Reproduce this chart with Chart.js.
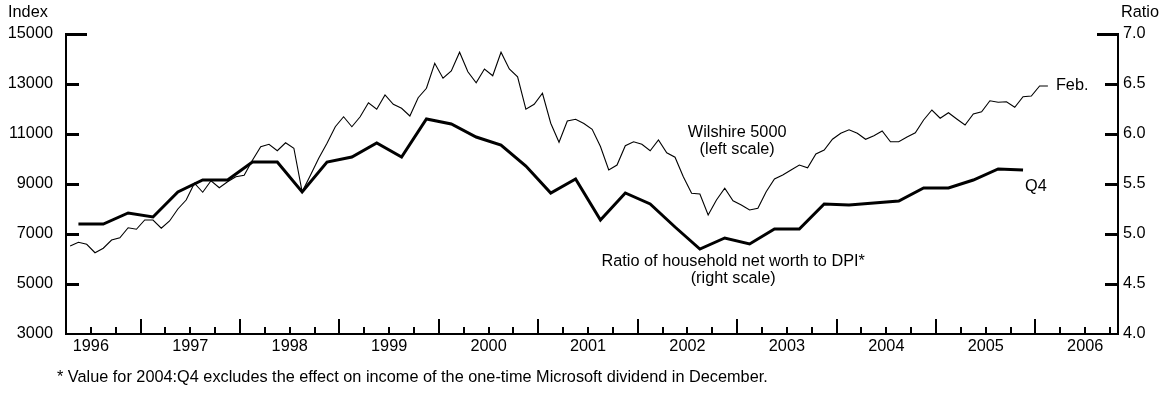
<!DOCTYPE html>
<html>
<head>
<meta charset="utf-8">
<script src="https://cdn.jsdelivr.net/npm/chart.js@4.4.0/dist/chart.umd.min.js"></script>
<style>
  html, body { margin: 0; padding: 0; background: #fff; }
  #wrap { width: 1159px; height: 396px; position: relative; }
</style>
</head>
<body>
<div id="wrap"><canvas id="chartCanvas" width="1159" height="396"></canvas></div>
<script>
// Wilshire 5000, monthly, first value is April 1996
const wilshireStart = 1996 + 3 / 12;
const wilshire = [
  6520, 6670, 6590, 6250, 6430, 6760, 6850, 7250, 7190,
  7560, 7560, 7230, 7520, 8000, 8360, 9030, 8670, 9130, 8850, 9090, 9290,
  9350, 9950, 10490, 10590, 10330, 10650, 10430, 8690, 9350, 10030, 10630, 11290,
  11690, 11290, 11690, 12250, 11990, 12560, 12190, 12030, 11720, 12450, 12830, 13830,
  13230, 13520, 14270, 13490, 13050, 13600, 13330, 14270, 13600, 13290, 11990, 12190,
  12630, 11430, 10670, 11520, 11590, 11420, 11190, 10500, 9560, 9760, 10530, 10690,
  10590, 10330, 10760, 10250, 10070, 9290, 8630, 8600, 7760, 8360, 8830, 8330,
  8160, 7960, 8030, 8690, 9200, 9360, 9560, 9760, 9650, 10200, 10360, 10790,
  11030, 11170, 11030, 10790, 10930, 11120, 10690, 10690, 10880, 11050, 11560, 11960,
  11630, 11850, 11600, 11360, 11800, 11890, 12330, 12270, 12290, 12070, 12490, 12520,
  12920, 12920
];

// household net worth / disposable personal income, quarterly, first value is 1996:Q2
const ratioStart = 1996 + 1 / 4;
const ratio = [
  5.10, 5.10, 5.21,
  5.17, 5.42, 5.54, 5.54,
  5.72, 5.72, 5.42, 5.72,
  5.77, 5.91, 5.77, 6.15,
  6.10, 5.97, 5.89, 5.68,
  5.41, 5.55, 5.14, 5.41,
  5.30, 5.07, 4.85, 4.96,
  4.90, 5.05, 5.05, 5.30,
  5.29, 5.31, 5.33, 5.46,
  5.46, 5.54, 5.65, 5.64
];

const yearLabels = ['1996', '1997', '1998', '1999', '2000', '2001', '2002', '2003', '2004', '2005', '2006'];
const indexTicks = [3000, 5000, 7000, 9000, 11000, 13000, 15000];
const ratioTicks = ['4.0', '4.5', '5.0', '5.5', '6.0', '6.5', '7.0'];

const FONT = '"Liberation Sans", Arial, Helvetica, sans-serif';
const FS = 16.3;

// points sit at the middle of their month / quarter
const wilshirePts = wilshire.map((v, i) => ({ x: wilshireStart + (i + 0.5) / 12, y: v }));
const ratioPts = ratio.map((v, i) => ({ x: ratioStart + (i + 0.5) / 4, y: v }));

// inward tick marks, titles and notes
const frame = {
  id: 'frame',
  afterDraw(chart) {
    const { ctx, chartArea: a, scales: { x, y, y1 } } = chart;
    ctx.save();
    ctx.strokeStyle = '#000';
    ctx.lineCap = 'butt';

    ctx.lineWidth = 3;
    indexTicks.forEach((v, i) => {
      if (i === 0) return;
      const py = Math.round(y.getPixelForValue(v)) + 0.5;
      const len = i === indexTicks.length - 1 ? 21 : 13;
      ctx.beginPath(); ctx.moveTo(a.left, py); ctx.lineTo(a.left + len, py); ctx.stroke();
    });
    ratioTicks.forEach((v, i) => {
      if (i === 0) return;
      const py = Math.round(y1.getPixelForValue(+v)) + 0.5;
      const len = i === ratioTicks.length - 1 ? 21 : 13;
      ctx.beginPath(); ctx.moveTo(a.right, py); ctx.lineTo(a.right - len, py); ctx.stroke();
    });

    ctx.lineWidth = 2;
    for (let q = Math.floor(x.min * 4) + 1; q / 4 < x.max; q++) {
      const px = Math.round(x.getPixelForValue(q / 4));
      const len = q % 4 === 0 ? 15 : 7;
      ctx.beginPath(); ctx.moveTo(px, a.bottom); ctx.lineTo(px, a.bottom - len); ctx.stroke();
    }

    ctx.fillStyle = '#000';
    ctx.font = FS + 'px ' + FONT;
    ctx.textBaseline = 'middle';

    ctx.textAlign = 'left';
    ctx.fillText('Index', 8, 13);
    ctx.fillText('Ratio', 1121, 13);

    // series labels
    const last = wilshirePts[wilshirePts.length - 1];
    ctx.fillText('Feb.', x.getPixelForValue(last.x) + 8, y.getPixelForValue(last.y));
    const lastR = ratioPts[ratioPts.length - 1];
    ctx.fillText('Q4', x.getPixelForValue(lastR.x) + 2, y1.getPixelForValue(lastR.y) + 17);

    ctx.textAlign = 'center';
    const cx = x.getPixelForValue(2003.0);
    ctx.fillText('Wilshire 5000', cx, y.getPixelForValue(11040));
    ctx.fillText('(left scale)', cx, y.getPixelForValue(10360));
    ctx.fillText('Ratio of household net worth to DPI*', x.getPixelForValue(2002.96), y.getPixelForValue(5880));
    ctx.fillText('(right scale)', x.getPixelForValue(2002.96), y.getPixelForValue(5200));

    ctx.textAlign = 'left';
    ctx.fillText('* Value for 2004:Q4 excludes the effect on income of the one-time Microsoft dividend in December.', 57, 378);
    ctx.restore();
  }
};

new Chart(document.getElementById('chartCanvas'), {
  type: 'line',
  data: {
    datasets: [
      {
        label: 'Wilshire 5000',
        data: wilshirePts,
        yAxisID: 'y',
        borderColor: '#000',
        borderWidth: 1.1,
        pointRadius: 0,
        tension: 0,
        fill: false
      },
      {
        label: 'Ratio of household net worth to DPI',
        data: ratioPts,
        yAxisID: 'y1',
        borderColor: '#000',
        borderWidth: 3,
        pointRadius: 0,
        tension: 0,
        fill: false
      }
    ]
  },
  options: {
    responsive: false,
    animation: false,
    devicePixelRatio: 1,
    layout: { padding: { top: 34, left: 0, right: 0, bottom: 0 } },
    plugins: { legend: { display: false }, tooltip: { enabled: false }, title: { display: false } },
    scales: {
      x: {
        type: 'linear',
        min: 1996.25,
        max: 2006.83,
        grid: { display: false, drawTicks: false },
        border: { display: true, color: '#000', width: 2 },
        afterBuildTicks: s => { s.ticks = yearLabels.map(l => ({ value: +l + 0.5 })); },
        afterFit: s => { s.height = 62; },
        ticks: {
          autoSkip: false,
          maxRotation: 0,
          padding: 3,
          color: '#000',
          font: { family: FONT, size: FS },
          callback: v => String(Math.floor(v))
        }
      },
      y: {
        position: 'left',
        min: 3000,
        max: 15000,
        grid: { display: false, drawTicks: false },
        border: { display: true, color: '#000', width: 2 },
        afterBuildTicks: s => { s.ticks = indexTicks.map(v => ({ value: v })); },
        afterFit: s => { s.width = 66; },
        ticks: { padding: 13, color: '#000', font: { family: FONT, size: FS }, callback: v => String(v) }
      },
      y1: {
        position: 'right',
        min: 4,
        max: 7,
        grid: { display: false, drawTicks: false },
        border: { display: true, color: '#000', width: 2 },
        afterBuildTicks: s => { s.ticks = ratioTicks.map(v => ({ value: +v })); },
        afterFit: s => { s.width = 41; },
        ticks: { padding: 5, color: '#000', font: { family: FONT, size: FS }, callback: v => v.toFixed(1) }
      }
    }
  },
  plugins: [frame]
});
</script>
</body>
</html>
